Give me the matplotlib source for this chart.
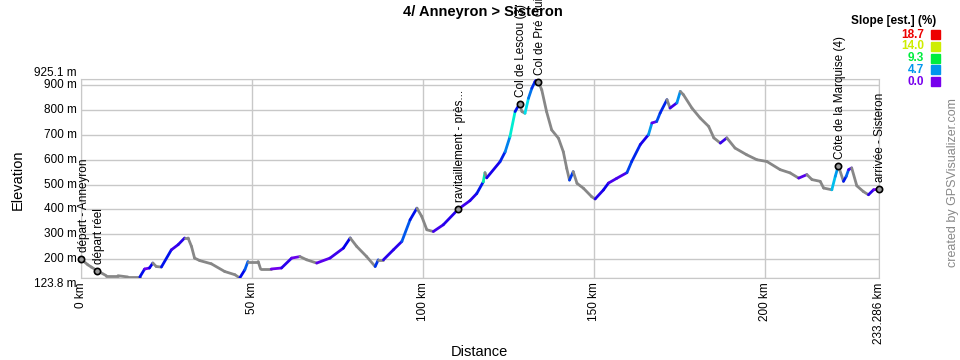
import colorsys
import matplotlib
matplotlib.use("Agg")
import matplotlib.pyplot as plt
import numpy as np
from matplotlib.collections import LineCollection

plt.rcParams['font.family'] = ['Liberation Sans', 'DejaVu Sans']

# profil (km, m)
dist_km = [0, 2, 3, 4.8, 7.4, 10.8, 13.7, 17.2, 18.6, 20, 21, 22, 23.5, 26.4, 28.4,
           30.3, 31.3, 32.3, 33.2, 34.7, 38.1, 42, 45, 46.4, 47.9, 48.8, 51.8, 52.5,
           55.6, 58.6, 61.6, 64, 66, 68.9, 72.8, 76.7, 78.7, 80.6, 83.5, 86, 86.9,
           88.4, 91.3, 93.8, 96.2, 98.2, 99.6, 101.1, 103, 105.9, 110.3, 113.7,
           115.7, 117.6, 118.1, 118.6, 122.5, 124, 125.4, 126.9, 128.2, 128.9,
           129.8, 130.8, 131.8, 132.7, 133.3, 133.7, 134.7, 136.1, 137.6, 139.6,
           141, 142, 142.8, 143.9, 145, 146.9, 149.3, 150.3, 152.7, 154.2, 156.6,
           159.6, 161, 163.5, 165.9, 166.9, 168.3, 169.3, 171.3, 172.2, 174.2,
           175.2, 176.1, 178.6, 181, 183.5, 185, 186.9, 188.8, 191.2, 194.6,
           197.6, 200.5, 204.4, 207.3, 209.8, 212.2, 213.7, 216.1, 217.1, 219.5,
           220.5, 221.4, 222.9, 223.7, 224.4, 225.3, 226.8, 228.7, 230.2, 231.7,
           233.286]
elev_m = [200, 177, 168, 153, 133, 133, 128, 128, 160, 164, 184, 170, 168, 237, 258,
          285, 285, 251, 204, 194, 181, 150, 137, 123.8, 157, 190, 190, 160,
          160, 164, 204, 210, 197, 184, 204, 244, 285, 251, 210, 170, 197,
          197, 237, 271, 358, 405, 372, 318, 311, 338, 401, 435,
          464, 511, 548, 527, 592, 632, 693, 794, 825, 794,
          787, 847, 888, 914, 925.1, 914, 881, 794, 720, 686,
          632, 565, 518, 552, 505, 485, 451, 442, 478, 506, 525,
          548, 593, 661, 701, 748, 754, 788, 842, 808, 829,
          875, 862, 808, 768, 734, 688, 667, 688, 647, 620,
          600, 593, 560, 547, 526, 540, 520, 513, 486, 479,
          533, 576, 513, 533, 560, 567, 495, 472, 459, 479,
          482]

# points de passage
wpt_names = ["départ - Anneyron", "départ réel", "ravitaillement - près...",
             "Col de Lescou (3)", "Col de Pré Guittard (2)",
             "Côte de la Marquise (4)", "arrivée - Sisteron"]
wpt_km = [0, 4.8, 110.3, 128.2, 133.7, 221.4, 233.286]
wpt_m = [200, 153, 401, 825, 914, 576, 482]

# legende pente
slope_vals = [18.7, 14.0, 9.3, 4.7, 0.0]
slope_max = 18.7

x_ticks = [0, 50, 100, 150, 200, 233.286]
x_labels = ["0 km", "50 km", "100 km", "150 km", "200 km", "233.286 km"]
y_ticks = [123.8, 200, 300, 400, 500, 600, 700, 800, 900, 925.1]
y_labels = ["123.8 m", "200 m", "300 m", "400 m", "500 m", "600 m", "700 m",
            "800 m", "900 m", "925.1 m"]


def slope_color(s):
    f = min(max(s / slope_max, 0), 1)
    h = (270 - 270 * f) / 360.0
    return colorsys.hsv_to_rgb(h, 1.0, 0.93)


x = np.array(dist_km)
y = np.array(elev_m)
pente = np.diff(y) / (np.diff(x) * 1000) * 100
cols = [slope_color(p) if p > 0 else (0.53, 0.53, 0.53) for p in pente]
segs = [[(x[i], y[i]), (x[i + 1], y[i + 1])] for i in range(len(x) - 1)]

fig = plt.figure(figsize=(9.6, 3.6), dpi=100)
ax = fig.add_axes([81 / 960, 1 - 278 / 360, 798 / 960, 199 / 360])

ax.add_collection(LineCollection(segs, colors=cols, linewidths=2.0,
                                 capstyle='round', zorder=3))
ax.set_xlim(0, 233.286)
ax.set_ylim(123.8, 925.1)

ax.set_xticks(x_ticks)
ax.set_xticklabels(x_labels, rotation=90, fontsize=8.5)
ax.set_yticks(y_ticks)
ax.set_yticklabels(y_labels, fontsize=8.5)
ax.tick_params(length=0, pad=3)
for lbl in ax.get_yticklabels():
    lbl.set_verticalalignment('center')
ax.get_yticklabels()[-1].set_verticalalignment('bottom')
ax.get_yticklabels()[0].set_verticalalignment('top')

ax.grid(True, color='#c8c8c8', linewidth=1)
ax.set_axisbelow(True)
for sp in ax.spines.values():
    sp.set_color('#c8c8c8')

fig.text(479 / 960, 1 - 352 / 360, "Distance", ha='center', va='center',
         fontsize=10.5)
fig.text(18 / 960, 1 - 180 / 360, "Elevation", ha='center', va='center',
         rotation=90, fontsize=10.5)

ax.plot(wpt_km, wpt_m, 'o', ms=4.5, mfc='#999999', mec='black', mew=1.2,
        zorder=5, clip_on=False)
for i, name in enumerate(wpt_names):
    ha = 'left' if i == 0 else 'center'
    dx = -2 if i == 0 else 1
    ax.annotate(name, (wpt_km[i], wpt_m[i]), xytext=(dx, 5),
                textcoords='offset points', rotation=90, ha=ha, va='bottom',
                fontsize=8.5, annotation_clip=False, zorder=6)

fig.text(483 / 960, 1 - 12 / 360, "4/ Anneyron > Sisteron", ha='center',
         va='center', fontsize=10.5, fontweight='bold')

fig.text(894 / 960, 1 - 21 / 360, "Slope [est.] (%)", ha='center', va='center',
         fontsize=8.5, fontweight='bold')
for i, v in enumerate(slope_vals):
    yy = 1 - (34.5 + 11.8 * i) / 360
    c = slope_color(v)
    fig.text(924 / 960, yy, "%.1f" % v, ha='right', va='center', fontsize=8.5,
             fontweight='bold', color=c)
    fig.patches.append(plt.Rectangle((931 / 960, yy - 4.5 / 360), 9 / 960, 9 / 360,
                                     transform=fig.transFigure, color=c))

fig.text(953 / 960, 1 - 183 / 360, "created by GPSVisualizer.com", rotation=90,
         ha='center', va='center', fontsize=9, color='#888888')

fig.savefig("out.png", dpi=100)
